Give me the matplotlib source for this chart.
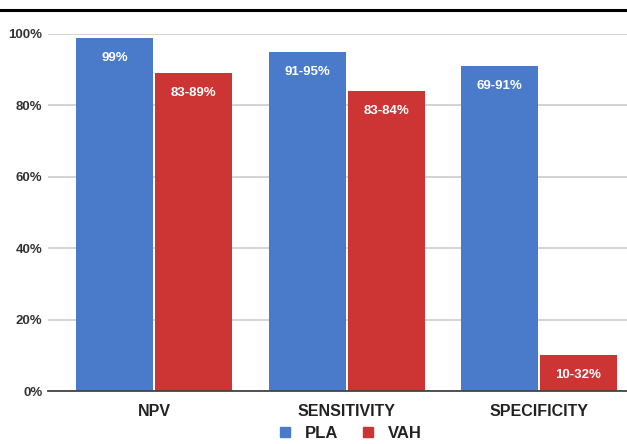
import matplotlib.pyplot as plt
from matplotlib.lines import Line2D
import numpy as np

plt.rcParams['font.family'] = ['Liberation Sans', 'DejaVu Sans']

categories = ["NPV", "SENSITIVITY", "SPECIFICITY"]
pla_values = [99, 95, 91]
vah_values = [89, 84, 10]
pla_labels = ["99%", "91-95%", "69-91%"]
vah_labels = ["83-89%", "83-84%", "10-32%"]

blue = "#4a7bcb"
red = "#cd3535"

fig = plt.figure(figsize=(6.27, 4.44), dpi=100)
ax = fig.add_axes([48 / 627, 1 - 391 / 444, 1 - 48 / 627, 357 / 444])

x = np.arange(len(categories))
w = 0.4
b1 = ax.bar(x - w / 2 - 0.005, pla_values, w, color=blue, zorder=3)
b2 = ax.bar(x + w / 2 + 0.005, vah_values, w, color=red, zorder=3)

for bars, labels in ((b1, pla_labels), (b2, vah_labels)):
    for rect, lab in zip(bars, labels):
        ax.text(rect.get_x() + rect.get_width() / 2, rect.get_height() - 5.6, lab,
                ha="center", va="center", color="white", fontsize=9.5, fontweight="bold", zorder=4)

ax.set_xlim(-0.551, 2.457)
ax.set_ylim(0, 100)
ax.set_yticks(range(0, 101, 20))
ax.set_yticklabels([f"{v}%" for v in range(0, 101, 20)], fontsize=9.5, fontweight="bold", color="#333333")
ax.set_xticks(x)
ax.set_xticklabels(categories, fontsize=11.5, fontweight="bold", color="#222222")
ax.tick_params(axis="both", length=0)
ax.tick_params(axis="x", pad=9)
ax.tick_params(axis="y", pad=4)
ax.grid(axis="y", color="#cccccc", linewidth=1.2, zorder=0)
for s in ["top", "right", "left"]:
    ax.spines[s].set_visible(False)
ax.spines["bottom"].set_color("#444444")
ax.spines["bottom"].set_linewidth(1.3)
ax.spines["bottom"].set_zorder(5)

handles = [Line2D([], [], marker="s", linestyle="none", color=blue, markersize=6.5),
           Line2D([], [], marker="s", linestyle="none", color=red, markersize=6.5)]
fig.legend(handles, ["PLA", "VAH"], loc="center", bbox_to_anchor=(345 / 627, 1 - 433 / 444),
           ncol=2, frameon=False, prop={"size": 12, "weight": "bold"},
           handletextpad=0.2, columnspacing=0.8, labelcolor="#222222")

fig.add_artist(Line2D([0, 1], [1 - 10 / 444, 1 - 10 / 444], color="black", linewidth=2.2,
                      transform=fig.transFigure))

fig.savefig("out.png", dpi=100)
